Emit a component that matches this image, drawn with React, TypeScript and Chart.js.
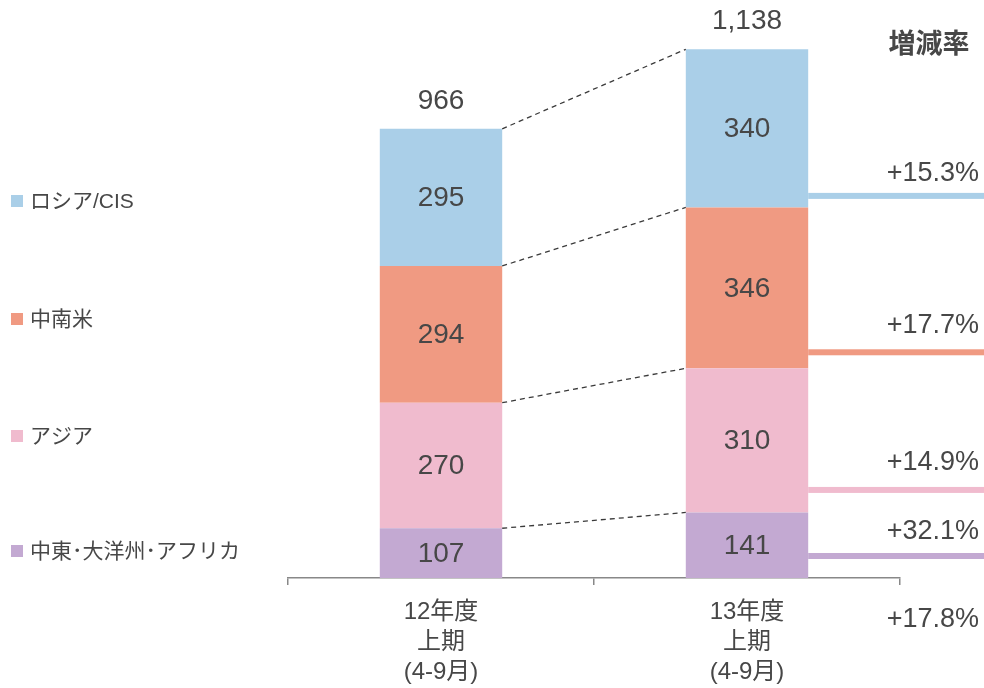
import React, { useEffect, useRef } from "react";
import { Chart, registerables } from "chart.js";

Chart.register(...registerables);

const categories = [
  ["12年度", "上期", "(4-9月)"],
  ["13年度", "上期", "(4-9月)"],
];
// bottom to top
const seriesNames = ["中東･大洋州･アフリカ", "アジア", "中南米", "ロシア/CIS"];
const middleEastAfrica = [107, 141];
const asia = [270, 310];
const latinAmerica = [294, 346];
const russiaCis = [295, 340];
const totals = ["966", "1,138"];
const growthRates = ["+32.1%", "+14.9%", "+17.7%", "+15.3%"];
const totalGrowth = "+17.8%";
const growthHeader = "増減率";

const colors = ["#C3A9D2", "#F0BBCE", "#F09A82", "#AACFE8"];
const TEXT = "#474747";
const FONT = "'Liberation Sans', Arial, 'Noto Sans CJK JP', sans-serif";
const lineOffsets = [22, 22.5, 16, 11.5];
const labelGaps = [25, 28, 28, 23];
const legendY = [551, 436, 319, 201];

const overlay = {
  id: "overlay",
  afterDatasetsDraw(chart: any) {
    const ctx = chart.ctx;
    const area = chart.chartArea;
    const n = chart.data.datasets.length;
    const metas = [];
    for (let i = 0; i < n; i++) metas.push(chart.getDatasetMeta(i));
    ctx.save();
    // dashed connectors
    ctx.strokeStyle = "#3a3a3a";
    ctx.lineWidth = 1.3;
    ctx.setLineDash([5, 4]);
    for (let i = 0; i < n; i++) {
      const a = metas[i].data[0];
      const b = metas[i].data[1];
      ctx.beginPath();
      ctx.moveTo(a.x + a.width / 2, a.y);
      ctx.lineTo(b.x - b.width / 2, b.y);
      ctx.stroke();
    }
    ctx.setLineDash([]);
    // segment labels
    ctx.fillStyle = TEXT;
    ctx.textAlign = "center";
    ctx.textBaseline = "middle";
    ctx.font = `28px ${FONT}`;
    for (let i = 0; i < n; i++) {
      metas[i].data.forEach((el: any, j: number) => {
        const v = chart.data.datasets[i].data[j];
        ctx.fillText(String(v), el.x, (el.y + el.base) / 2 + 1);
      });
    }
    // totals
    metas[n - 1].data.forEach((el: any, j: number) => {
      ctx.fillText(totals[j], el.x, el.y - 28);
    });
    // growth lines and labels
    ctx.font = `27px ${FONT}`;
    ctx.textAlign = "right";
    for (let i = 0; i < n; i++) {
      const el = metas[i].data[1];
      const ly = el.base - lineOffsets[i];
      ctx.fillStyle = colors[i];
      ctx.fillRect(el.x + el.width / 2, ly - 3, chart.width - (el.x + el.width / 2), 6);
      ctx.fillStyle = TEXT;
      ctx.fillText(growthRates[i], 979, ly - labelGaps[i] + 1);
    }
    ctx.fillText(totalGrowth, 979, area.bottom + 42);
    ctx.font = `bold 27px ${FONT}`;
    ctx.textAlign = "center";
    ctx.fillText(growthHeader, 929, 46);
    // legend
    ctx.textAlign = "left";
    ctx.font = `21px ${FONT}`;
    for (let i = 0; i < n; i++) {
      ctx.fillStyle = colors[i];
      ctx.fillRect(11, legendY[i] - 6, 12, 12);
      ctx.fillStyle = TEXT;
      ctx.fillText(seriesNames[i], 30, legendY[i] + 1);
    }
    ctx.restore();
  },
};

export default function App() {
  const ref = useRef<HTMLCanvasElement>(null);
  useEffect(() => {
    if (!ref.current) return;
    const data = [middleEastAfrica, asia, latinAmerica, russiaCis];
    const chart = new Chart(ref.current, {
      type: "bar",
      data: {
        labels: categories as any,
        datasets: data.map((d, i) => ({
          label: seriesNames[i],
          data: d,
          backgroundColor: colors[i],
          borderWidth: 0,
          barPercentage: 0.4,
          categoryPercentage: 1,
        })),
      },
      options: {
        responsive: false,
        animation: false,
        layout: { padding: { left: 288, right: 84, top: 20, bottom: 0 } },
        plugins: { legend: { display: false }, tooltip: { enabled: false } },
        scales: {
          x: {
            stacked: true,
            afterFit: (s: any) => {
              s.height = 110;
            },
            grid: {
              display: true,
              drawOnChartArea: false,
              drawTicks: true,
              tickLength: 7,
              color: "#888888",
              lineWidth: 1.5,
              offset: true,
            },
            border: { display: true, color: "#888888", width: 1.5 },
            ticks: {
              color: TEXT,
              font: { family: FONT, size: 24, lineHeight: 1.25 },
              padding: 12,
              maxRotation: 0,
            },
          },
          y: {
            stacked: true,
            display: false,
            min: 0,
            max: 1200,
          },
        },
      },
      plugins: [overlay],
    });
    return () => chart.destroy();
  }, []);
  return (
    <div style={{ position: "fixed", left: 0, top: 0, width: 984, height: 688, background: "#fff" }}>
      <canvas ref={ref} width={984} height={688} style={{ width: 984, height: 688 }} />
    </div>
  );
}
